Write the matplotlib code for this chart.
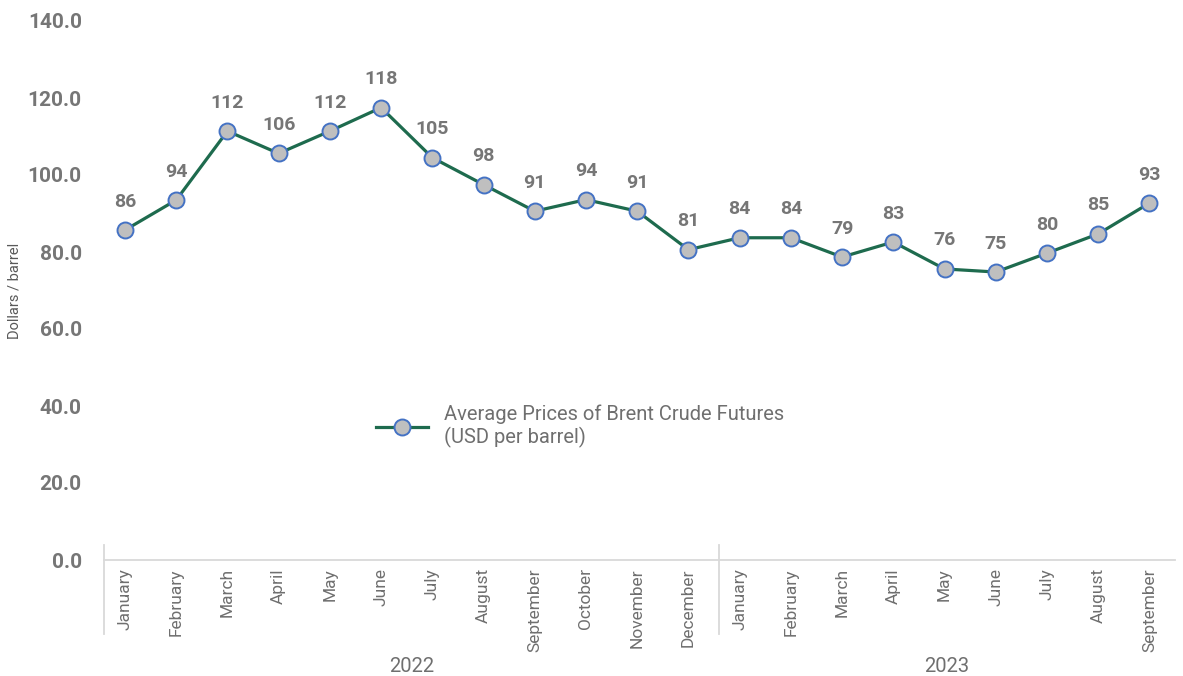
import matplotlib
matplotlib.use("Agg")
import matplotlib.pyplot as plt

months = ["January", "February", "March", "April", "May", "June", "July", "August",
          "September", "October", "November", "December",
          "January", "February", "March", "April", "May", "June", "July", "August", "September"]
years = ["2022", "2023"]
year_counts = [12, 9]
prices = [85.7, 93.5, 111.4, 105.6, 111.4, 117.5, 104.5, 97.5, 90.6, 93.6, 90.6, 80.6,
          83.7, 83.7, 78.7, 82.6, 75.6, 74.8, 79.7, 84.7, 92.7]
labels = ["86", "94", "112", "106", "112", "118", "105", "98", "91", "94", "91", "81",
          "84", "84", "79", "83", "76", "75", "80", "85", "93"]
y_ticks = [0, 20, 40, 60, 80, 100, 120, 140]

plt.rcParams['font.family'] = ['Roboto', 'DejaVu Sans']
gray = "#767676"
line_color = "#1e6b4e"

fig = plt.figure(figsize=(11.83, 6.76), dpi=100)
ax = fig.add_axes([104/1183, (676-560)/676, (1175-104)/1183, (560-21)/676])

x = list(range(len(prices)))
ax.plot(x, prices, color=line_color, lw=2.3, marker='o', markersize=11.5,
        markerfacecolor="#bfbfbf", markeredgecolor="#4472c4", markeredgewidth=1.4,
        label="Average Prices of Brent Crude Futures\n(USD per barrel)", zorder=3)
for xi, yi, lab in zip(x, prices, labels):
    ax.annotate(lab, (xi, yi), xytext=(0, 14), textcoords='offset points',
                ha='center', va='bottom', fontsize=14, fontweight='bold', color=gray)

ax.set_xlim(-0.41, 20.5)
ax.set_ylim(0, 140)
ax.set_yticks(y_ticks)
ax.set_yticklabels([f"{v:.1f}" for v in y_ticks], fontsize=15, fontweight='bold', color=gray)
ax.tick_params(axis='y', length=0, pad=16)
ax.set_xticks(x)
ax.set_xticklabels(months, rotation=90, fontsize=12.5, color="#6f6f6f")
ax.tick_params(axis='x', length=0, pad=6)
for s in ['top', 'right', 'left']:
    ax.spines[s].set_visible(False)
ax.spines['bottom'].set_color("#d9d9d9")
ax.spines['bottom'].set_linewidth(1.3)

ax.set_ylabel("Dollars / barrel", fontsize=10.5, color="#595959")
ax.yaxis.set_label_coords(-0.077, 0.5)

# group dividers and year labels
trans = ax.get_xaxis_transform()
bounds = [-0.41]
start = 0
for c in year_counts:
    start += c
    bounds.append(start - 0.4 if start < len(prices) else 20.5)
for b in bounds[:-1]:
    ax.plot([b, b], [0.027, -0.137], transform=trans, color="#d9d9d9", lw=1.3, clip_on=False)
for i, yr in enumerate(years):
    center = (bounds[i] + bounds[i + 1]) / 2
    ax.text(center, -0.197, yr, transform=trans, ha='center', va='center',
            fontsize=14.5, color="#6f6f6f")

leg = ax.legend(loc='center left', bbox_to_anchor=(0.237, 0.248), frameon=False,
                fontsize=14.5, handlelength=2.6, handletextpad=0.8, labelcolor="#6f6f6f")

fig.savefig("out.png", dpi=100)
